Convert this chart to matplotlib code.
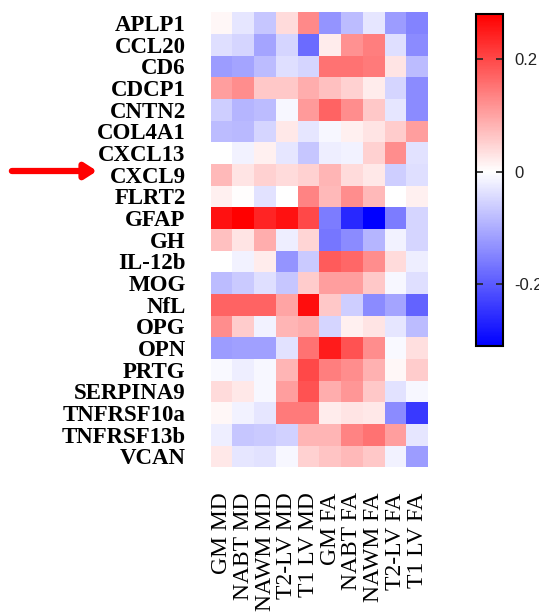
import numpy as np
import matplotlib
matplotlib.use("Agg")
from matplotlib import pyplot as plt
from matplotlib.colors import LinearSegmentedColormap, Normalize

proteins = ["APLP1", "CCL20", "CD6", "CDCP1", "CNTN2", "COL4A1", "CXCL13",
            "CXCL9", "FLRT2", "GFAP", "GH", "IL-12b", "MOG", "NfL", "OPG",
            "OPN", "PRTG", "SERPINA9", "TNFRSF10a", "TNFRSF13b", "VCAN"]
measures = ["GM MD", "NABT MD", "NAWM MD", "T2-LV MD", "T1 LV MD",
            "GM FA", "NABT FA", "NAWM FA", "T2-LV FA", "T1 LV FA"]
highlight = "CXCL9"

# correlation values (rows = proteins, cols = measures)
aplp1 = [0.01, -0.03, -0.07, 0.04, 0.13, -0.13, -0.08, -0.03, -0.12, -0.15]
ccl20 = [-0.04, -0.05, -0.11, -0.05, -0.18, 0.02, 0.12, 0.14, -0.04, -0.14]
cd6 = [-0.12, -0.11, -0.08, -0.04, -0.05, 0.155, 0.155, 0.145, 0.03, -0.08]
cdcp1 = [0.105, 0.125, 0.06, 0.06, 0.09, 0.07, 0.05, 0.02, -0.05, -0.14]
cntn2 = [-0.06, -0.09, -0.08, -0.01, 0.11, 0.17, 0.125, 0.06, -0.03, -0.14]
col4a1 = [-0.08, -0.085, -0.05, 0.025, -0.03, -0.01, 0.015, 0.03, 0.055, 0.105]
cxcl13 = [0.0, -0.015, 0.015, -0.03, -0.07, -0.02, -0.015, 0.05, 0.125, -0.035]
cxcl9 = [0.075, 0.03, 0.05, 0.04, 0.05, 0.08, 0.04, 0.025, -0.06, -0.04]
flrt2 = [0.015, 0.003, -0.035, 0.0, 0.135, 0.075, 0.125, 0.075, 0.0, 0.015]
gfap = [0.26, 0.28, 0.24, 0.26, 0.2, -0.16, -0.26, -0.31, -0.16, -0.05]
gh = [0.07, 0.03, 0.09, -0.02, 0.045, -0.165, -0.14, -0.09, -0.015, -0.05]
il12b = [0.0, -0.015, 0.02, -0.13, -0.065, 0.18, 0.165, 0.125, 0.04, -0.02]
mog = [-0.08, -0.065, -0.04, -0.07, 0.055, 0.105, 0.105, 0.06, -0.01, -0.04]
nfl = [0.17, 0.17, 0.17, 0.1, 0.265, 0.06, -0.06, -0.14, -0.11, -0.19]
opg = [0.125, 0.055, -0.015, 0.08, 0.09, -0.05, 0.015, 0.03, -0.03, -0.08]
opn = [-0.12, -0.115, -0.115, -0.035, 0.155, 0.25, 0.19, 0.125, -0.007, 0.035]
prtg = [-0.007, -0.02, -0.01, 0.08, 0.2, 0.14, 0.125, 0.085, 0.01, 0.055]
serpina9 = [0.04, 0.025, -0.01, 0.105, 0.19, 0.09, 0.115, 0.06, -0.035, -0.01]
tnfrsf10a = [0.01, -0.015, -0.03, 0.145, 0.145, 0.02, 0.03, 0.025, -0.14, -0.24]
tnfrsf13b = [-0.02, -0.07, -0.065, -0.055, 0.08, 0.08, 0.135, 0.155, 0.105, -0.03]
vcan = [0.025, -0.03, -0.035, -0.01, 0.05, 0.065, 0.075, 0.06, -0.015, -0.12]

cbar_ticks = [-0.2, 0, 0.2]
cbar_labels = ["-0.2", "0", "0.2"]


def main():
    data = np.array([aplp1, ccl20, cd6, cdcp1, cntn2, col4a1, cxcl13, cxcl9,
                     flrt2, gfap, gh, il12b, mog, nfl, opg, opn, prtg,
                     serpina9, tnfrsf10a, tnfrsf13b, vcan])
    vmin, vmax = -0.31, 0.28
    mid = -vmin / (vmax - vmin)
    cmap = LinearSegmentedColormap.from_list(
        "bwr_shift", [(0, "#0000ff"), (mid, "#ffffff"), (1, "#ff0000")])
    norm = Normalize(vmin=vmin, vmax=vmax)

    fig = plt.figure(figsize=(5.39, 6.14), dpi=100)
    ax = fig.add_axes([0.391, 0.239, 0.403, 0.741])
    mesh = ax.pcolormesh(data, cmap=cmap, norm=norm, edgecolors="none")
    ax.set_xlim(0, len(measures))
    ax.set_ylim(len(proteins), 0)
    for s in ax.spines.values():
        s.set_visible(False)

    ax.set_yticks(np.arange(len(proteins)) + 0.5)
    ax.set_yticklabels(proteins, family="Liberation Serif", weight="bold",
                       fontsize=16.5)
    ax.set_xticks(np.arange(len(measures)) + 0.5)
    ax.set_xticklabels(measures, family="Liberation Serif", fontsize=17,
                       rotation=90)
    ax.tick_params(length=0)
    ax.tick_params(axis="y", pad=18)
    ax.tick_params(axis="x", pad=18)

    # arrow pointing at the highlighted protein
    ax.annotate("", xy=(0.18, 1 - 171 / 614), xycoords="figure fraction",
                xytext=(0.022, 1 - 171 / 614), textcoords="figure fraction",
                arrowprops=dict(arrowstyle="-|>,head_length=0.7,head_width=0.45",
                                color="#ff0000", lw=4.5, shrinkA=0, shrinkB=0))

    cax = fig.add_axes([0.883, 0.436, 0.050, 0.541])
    cb = fig.colorbar(mesh, cax=cax, ticks=cbar_ticks)
    cb.set_ticklabels(cbar_labels)
    cb.outline.set_linewidth(1.5)
    cax.tick_params(direction="in", left=True, right=True, length=5, width=1.2,
                    labelsize=12, pad=8, colors="#222222")
    for t in cax.get_yticklabels():
        t.set_family("Liberation Sans")

    fig.savefig("out.png", dpi=100)


if __name__ == '__main__':
    main()
